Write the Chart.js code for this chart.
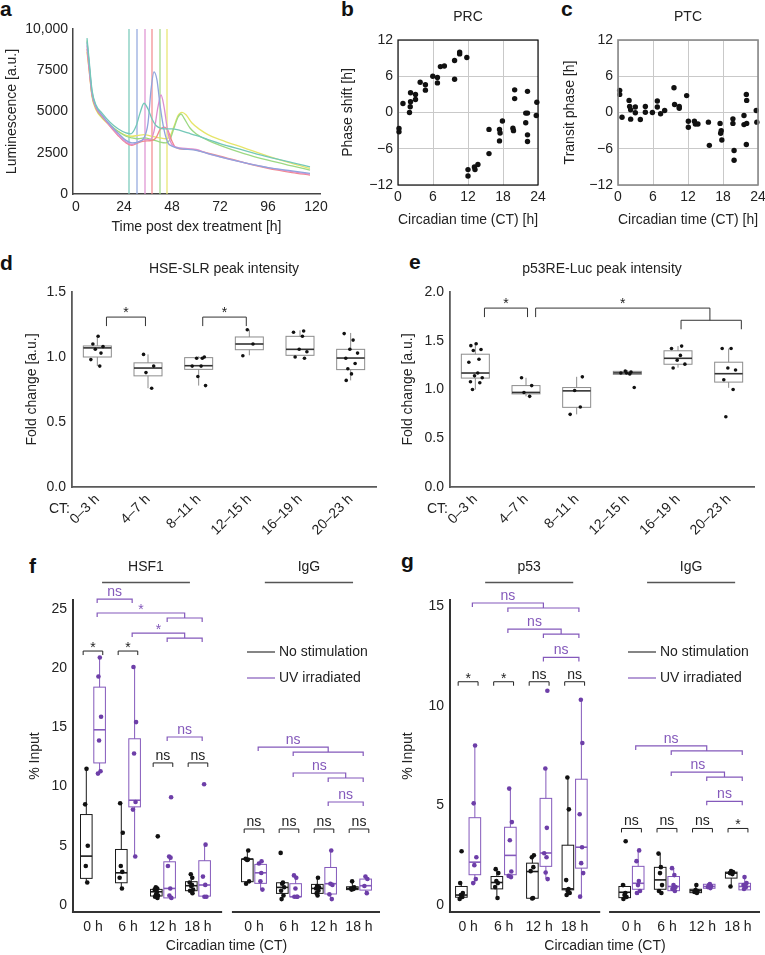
<!DOCTYPE html>
<html><head><meta charset="utf-8"><title>Circadian figure</title>
<script src="https://cdn.jsdelivr.net/npm/chart.js@4.4.0/dist/chart.umd.min.js"></script>
<style>
html,body{margin:0;padding:0;background:#fff;}
body{position:relative;width:765px;height:955px;overflow:hidden;font-family:'Liberation Sans',Arial,sans-serif;}
.pl{position:absolute;font-weight:bold;font-size:21px;line-height:21px;color:#111;}
canvas{position:absolute;}
</style></head><body>
<div class="pl" style="left:0px;top:-2px">a</div>
<div class="pl" style="left:341px;top:-2px">b</div>
<div class="pl" style="left:561px;top:-2px">c</div>
<div class="pl" style="left:0px;top:252px">d</div>
<div class="pl" style="left:409px;top:251px">e</div>
<div class="pl" style="left:29px;top:555px">f</div>
<div class="pl" style="left:401px;top:550px">g</div>
<script>
// ================= DATA =================
// panel a
const aXTicks = [0, 24, 48, 72, 96, 120];
const aYTicks = [0, 2500, 5000, 7500, 10000];
const curveTeal = [[5.5,9450],[6.5,8200],[8,6300],[10,5400],[13,4900],[17,4350],[21,3950],[25,3700],[27.5,3650],[30,4100],[32,4900],[34,5500],[36,5150],[38,4550],[40,4150],[44,3950],[48,3950],[52,3850],[56,3700],[60,3550],[66,3300],[72,3050],[84,2650],[96,2250],[108,1900],[117,1650]];
const curveBlue = [[5.5,9200],[6.5,8000],[8,6200],[10,5300],[13,4800],[17,4200],[21,3700],[25,3250],[28,3100],[31,3150],[34,3400],[36,4300],[37.5,6300],[39,7400],[40.5,6900],[42,5400],[44,3900],[46,3100],[48,2900],[52,2750],[56,2700],[60,2650],[66,2450],[72,2250],[84,1900],[96,1600],[108,1400],[117,1250]];
const curvePink = [[5.5,9000],[6.5,7800],[8,6100],[10,5250],[13,4750],[17,4150],[21,3600],[25,3150],[28,3000],[31,3150],[34,3300],[37,3300],[39,3800],[41,5300],[42.5,6000],[44,5300],[46,3700],[48,3000],[52,2800],[56,2750],[60,2700],[66,2450],[72,2250],[84,1900],[96,1600],[108,1350],[117,1200]];
const curveSalmon = [[5.5,8800],[6.5,7600],[8,6000],[10,5200],[13,4700],[17,4100],[21,3550],[25,3100],[28,2950],[31,3100],[34,3200],[38,3250],[40,3400],[42,3900],[44,4050],[46,3850],[48,3200],[50,2800],[54,2700],[58,2700],[62,2600],[72,2300],[84,1900],[96,1550],[108,1300],[117,1150]];
const curveGreen = [[5.5,9300],[6.5,7900],[8,6000],[10,5200],[13,4650],[17,4200],[21,3800],[25,3500],[28,3400],[31,3350],[34,3400],[38,3300],[42,3150],[45,3100],[47,3300],[49,4000],[51,4650],[52.5,4850],[54,4600],[57,4000],[60,3650],[66,3250],[72,2950],[84,2450],[96,2050],[108,1700],[117,1450]];
const curveYellow = [[5.5,8600],[6.5,7600],[8,5900],[10,5100],[13,4600],[17,4150],[21,3800],[25,3550],[28,3500],[31,3550],[34,3600],[38,3500],[42,3400],[45,3350],[47,3500],[49,4100],[51,4750],[53,4950],[55,4800],[58,4300],[62,3900],[66,3600],[72,3300],[84,2800],[96,2300],[108,1850],[117,1550]];
const phaseLines = [26.5, 30.5, 34.5, 38, 42, 45.5];

// panel b (PRC)
const prcCT = [0.17,0.17,0.85,1.97,2.1,2.15,2.15,3.0,3.0,3.8,4.7,4.7,5.96,6.76,6.76,7.27,7.95,9.7,9.7,10.57,10.57,11.8,12.0,12.0,13.1,13.2,13.7,15.6,15.6,17.4,17.5,17.4,17.9,20.0,20.0,19.7,19.8,22.2,21.9,22.2,21.9,22.2,22.2,23.8,23.7];
const prcShift = [-2.65,-3.2,1.5,0,0.94,1.77,3.26,3.0,2.15,5.0,4.6,3.7,6.0,5.8,4.9,7.6,7.7,8.6,5.5,10.0,9.7,9.1,-9.45,-10.5,-9.0,-9.45,-8.6,-2.8,-6.8,-2.8,-3.4,-4.7,-1.4,3.75,2.3,-2.6,-3.0,3.5,-0.1,-0.1,-1.7,-3.7,-4.8,1.7,-0.5];
// panel c (PTC)
const ptcCT = [0.29,0.29,0.69,1.9,2.0,2.17,2.17,2.97,2.97,3.83,4.69,4.69,5.9,6.74,6.74,7.3,8.0,9.6,9.7,10.5,10.5,11.77,12.06,12.06,13.1,13.26,13.7,15.5,15.66,17.5,17.6,17.7,17.8,19.7,19.7,19.9,19.9,21.6,21.6,22.0,22.06,22.06,22.0,23.7,23.8];
const ptcPhase = [3.67,3.0,-0.78,2.0,1.0,0.44,-1.1,0.9,-0.05,-1.17,1.0,0.05,0,1.9,0.9,-0.2,0.33,4.1,1.33,1.0,0.7,2.8,-1.44,-2.44,-1.44,-1.9,-1.9,-1.6,-5.44,-1.8,-3.44,-3.0,-4.55,-1.05,-1.8,-6.3,-7.9,-0.5,-2.0,3.0,2.0,-1.8,-5.3,0.33,-1.6];
const phaseTicks = [0, 6, 12, 18, 24];

// panels d, e  (box = [min, q1, median, q3, max])
const ctCats = ['0\u20133 h','4\u20137 h','8\u201311 h','12\u201315 h','16\u201319 h','20\u201323 h'];
const dBoxes = [[0.93,1.00,1.07,1.085,1.17],[0.76,0.855,0.915,0.955,1.02],[0.78,0.905,0.933,0.995,1.005],[1.013,1.056,1.10,1.154,1.21],[1.013,1.013,1.059,1.159,1.205],[0.82,0.903,0.992,1.059,1.185]];
const dPoints = [[1.16,1.10,1.08,1.06,1.03,0.98,0.93],[1.02,0.93,0.88,0.76],[1.00,0.99,0.99,0.93,0.93,0.85,0.78],[1.21,1.10,1.01],[1.20,1.19,1.16,1.06,1.04,1.00,0.99],[1.18,1.13,1.06,1.03,0.99,0.95,0.91,0.87,0.82]];
const eBoxes = [[1.0,1.117,1.169,1.362,1.47],[0.93,0.955,0.97,1.04,1.12],[0.745,0.817,0.986,1.02,1.13],[1.155,1.155,1.17,1.186,1.2],[1.224,1.259,1.32,1.397,1.445],[1.017,1.076,1.162,1.28,1.42]];
const ePoints = [[1.47,1.45,1.41,1.40,1.31,1.28,1.17,1.14,1.12,1.08,1.07,1.0],[1.12,1.04,0.97,0.93],[1.13,0.99,0.82,0.745],[1.19,1.18,1.17,1.16,1.17,1.02],[1.445,1.42,1.35,1.30,1.26,1.22],[1.42,1.42,1.22,1.20,1.10,1.0,0.72]];

// panels f, g
const ctLabels = ['0 h','6 h','12 h','18 h'];
const grpX = [0, 1, 2, 3, 4.6, 5.6, 6.6, 7.6];
const fHsfCtrlBox = [[1.88,2.25,4.13,7.64,11.46],[1.4,1.88,2.72,4.69,8.62],[0.56,0.76,1.12,1.32,1.55],[0.98,1.21,1.63,1.97,2.61]];
const fHsfCtrlPts = [[11.5,8.5,5.0,3.3,1.9],[8.6,6.1,3.3,2.8,2.3,1.4],[5.8,1.5,1.4,1.3,1.1,0.9,0.8,0.7,0.6],[2.6,2.3,1.9,1.7,1.6,1.3,1.2,1.0]];
const fHsfUVBox = [[11.0,12.0,14.8,18.4,20.9],[4.13,8.29,8.85,14.04,20.1],[0.5,0.6,1.4,3.65,4.13],[0.7,0.75,1.69,3.74,5.14]];
const fHsfUVPts = [[20.9,19.3,15.9,13.9,11.3,11.1],[20.1,15.45,12.8,8.7,8.06,4.1],[9.1,4.1,4.0,3.3,1.4,0.8,0.6],[10.2,5.1,2.4,1.7,0.7,0.7]];
const fIgGCtrlBox = [[1.83,1.97,3.88,3.88,4.58],[0.5,0.98,1.49,1.88,1.9],[0.76,0.98,1.4,1.74,2.33],[1.26,1.3,1.4,1.54,2.05]];
const fIgGCtrlPts = [[4.6,3.9,3.85,3.8,2.0,1.8],[4.4,1.9,1.8,1.5,1.2,0.8,0.5],[2.3,1.6,1.5,1.4,1.2,1.0,0.8],[2.0,1.5,1.4,1.35,1.3]];
const fIgGUVBox = [[1.32,1.83,2.72,3.43,3.74],[0.7,0.7,0.7,1.8,2.53],[0.5,0.93,1.8,3.17,4.63],[0.9,1.26,1.63,2.19,2.39]];
const fIgGUVPts = [[3.7,3.5,2.7,2.0,1.3],[2.5,2.3,1.4,0.7,0.7,0.7],[4.6,1.8,1.7,0.9,0.5],[2.4,2.2,1.6,1.0]];
const gP53CtrlBox = [[0.3,0.39,0.5,0.93,1.09],[0.34,0.81,1.13,1.43,1.8],[0.34,0.34,1.68,2.1,2.49],[0.47,0.76,0.81,3.0,6.43]];
const gP53CtrlPts = [[2.7,1.1,0.6,0.5,0.4,0.3],[1.8,1.6,1.2,1.1,0.9,0.35],[2.5,2.4,1.9,1.7,0.35,0.33],[6.4,4.8,1.25,0.8,0.7,0.6,0.5]];
const gP53UVBox = [[1.06,1.52,2.15,4.38,8.0],[1.4,1.52,2.49,3.9,5.84],[1.31,1.94,2.61,5.35,6.85],[0.42,1.85,2.9,6.31,10.3]];
const gP53UVPts = [[8.0,5.1,2.4,2.0,1.3,1.1],[5.84,4.16,3.25,1.68,1.46,1.4],[10.75,6.85,3.87,2.6,2.4,1.63,1.3],[10.3,8.13,4.55,2.9,2.1,1.6,0.42]];
const gIgGCtrlBox = [[0.29,0.37,0.64,0.93,1.06],[0.59,0.79,1.26,1.89,2.58],[0.6,0.62,0.72,0.79,1.01],[0.93,1.35,1.6,1.65,1.68]];
const gIgGCtrlPts = [[3.2,1.0,0.6,0.5,0.4,0.3],[2.58,1.9,1.6,1.0,0.7,0.6],[1.0,0.75,0.7,0.65,0.6],[1.7,1.65,1.6,1.55,0.93]];
const gIgGUVBox = [[0.5,0.79,1.09,1.94,2.74],[0.67,0.72,0.93,1.43,1.85],[0.84,0.84,0.93,1.04,1.05],[0.76,0.76,0.93,1.09,1.4]];
const gIgGUVPts = [[2.74,2.2,1.2,1.0,0.7,0.6],[1.85,1.5,1.0,0.9,0.8,0.7],[1.05,1.0,0.95,0.9,0.85],[1.4,1.1,1.0,0.9,0.8]];
// significance
const fPairSig = ['*','*','ns','ns','ns','ns','ns','ns'];
const fPairY = [21.45,21.45,12.0,12.0,6.42,6.42,6.42,6.42];
const gPairSig = ['*','*','ns','ns','ns','ns','ns','*'];
const gPairY = [11.2,11.2,11.2,11.2,3.84,3.84,3.84,3.84];
const fUVSig = [{a:0,b:1,y:25.84,t:'ns'},{a:0,sub:[2,3],y:24.66,t:'*'},{a:1,sub:[2,3],y:22.97,t:'*'},{a:2,b:3,y:14.19,t:'ns'},{a:4,sub:[5,7],y:13.34,t:'ns'},{a:5,sub:[6,7],y:11.15,t:'ns'},{a:6,b:7,y:8.7,t:'ns'}];
const gUVSig = [{a:0,sub:[1,3],y:15.15,t:'ns'},{a:1,sub:[2,3],y:13.84,t:'ns'},{a:2,b:3,y:12.42,t:'ns'},{a:4,sub:[5,7],y:7.98,t:'ns'},{a:5,sub:[6,7],y:6.67,t:'ns'},{a:6,b:7,y:5.2,t:'ns'}];
const dSig = [{x1:0.18,x2:0.95,y:1.307,t:'*'},{x1:2.08,x2:2.94,y:1.307,t:'*'}];
const eSig = [{x1:0.18,x2:1.03,y:1.835,t:'*'},{x1:1.19,x2:4.63,y:1.835,toY:1.71,t:'*'},{x1:4.06,x2:5.25,y:1.71,t:''}];

// ================= RENDER =================
const FONT = "'Liberation Sans', Arial, Helvetica, sans-serif";
Chart.defaults.font.family = FONT;
Chart.defaults.font.size = 14;
Chart.defaults.color = '#222';
Chart.defaults.animation = false;
Chart.defaults.events = [];
Chart.defaults.plugins.legend.display = false;
Chart.defaults.plugins.tooltip.enabled = false;
const PUR = '#8459bb', PURDOT = '#6d3ea8';
const JIT = [0.1,-0.55,0.7,-0.25,0.45,-0.8,0.3,-0.1,0.85,-0.6,0.55,-0.35];
let pid = 0;

function mk(L, T, W, H, area, cfg) {
  const c = document.createElement('canvas');
  c.width = W; c.height = H;
  c.style.left = L + 'px'; c.style.top = T + 'px';
  c.style.width = W + 'px'; c.style.height = H + 'px';
  document.body.appendChild(c);
  const o = cfg.options;
  o.responsive = false;
  o.layout = { padding: { left: 0, top: area.t - T, right: L + W - area.r, bottom: 0 } };
  const xh = T + H - area.b, yw = area.l - L;
  o.scales.x.afterFit = s => { s.height = xh; s.paddingLeft = 0; s.paddingRight = 0; };
  o.scales.y.afterFit = s => { s.width = yw; s.paddingTop = 0; s.paddingBottom = 0; };
  return new Chart(c, cfg);
}
function setTicks(vals) { return s => { s.ticks = vals.map(v => ({ value: v })); }; }
function txt(ctx, s, x, y, opt) {
  opt = opt || {};
  ctx.font = (opt.w ? opt.w + ' ' : '') + (opt.size || 14) + 'px ' + FONT;
  ctx.fillStyle = opt.color || '#222';
  ctx.textAlign = opt.align || 'center';
  ctx.textBaseline = opt.base || 'middle';
  ctx.fillText(s, x, y);
}
function poly(ctx, pts, col, lw) {
  ctx.strokeStyle = col; ctx.lineWidth = lw; ctx.beginPath();
  pts.forEach((p, i) => i ? ctx.lineTo(p[0], p[1]) : ctx.moveTo(p[0], p[1]));
  ctx.stroke();
}
function sigLabel(ctx, s, x, y, col) {
  if (!s) return;
  if (s === '*') txt(ctx, '*', x, y + 1, { color: col, base: 'alphabetic' });
  else txt(ctx, s, x, y - 3, { color: col, base: 'alphabetic' });
}
function decor(L, T, fn) {
  return { id: 'decor' + (pid++), afterDraw(chart) { const ctx = chart.ctx; ctx.save(); ctx.translate(-L, -T); fn(ctx, chart); ctx.restore(); } };
}
function boxesPlugin(series) {
  return { id: 'boxes' + (pid++), beforeDatasetsDraw(chart) {
    const ctx = chart.ctx, X = chart.scales.x, Y = chart.scales.y;
    ctx.save();
    series.forEach(s => s.boxes.forEach((b, i) => {
      const px = X.getPixelForValue(s.xOf(i));
      const p = b.map(v => Y.getPixelForValue(v));
      ctx.strokeStyle = s.col; ctx.lineWidth = s.lw;
      ctx.beginPath();
      ctx.moveTo(px, p[4]); ctx.lineTo(px, p[3]);
      ctx.moveTo(px, p[1]); ctx.lineTo(px, p[0]);
      ctx.stroke();
      ctx.strokeRect(px - s.hw, p[3], 2 * s.hw, p[1] - p[3]);
      ctx.strokeStyle = s.med; ctx.lineWidth = s.medLw;
      ctx.beginPath(); ctx.moveTo(px - s.hw, p[2]); ctx.lineTo(px + s.hw, p[2]); ctx.stroke();
    }));
    ctx.restore();
  } };
}
function ptsData(arr, xOf, jw) {
  const out = [];
  arr.forEach((vals, g) => vals.forEach((v, i) => out.push({ x: xOf(g) + JIT[(i + g) % JIT.length] * jw, y: v })));
  return out;
}

// ---------- panel a ----------
const aCurves = [curveTeal, curveBlue, curvePink, curveSalmon, curveGreen, curveYellow];
const aColors = ['#74c8b8','#8fa5dd','#de8fd0','#f2878c','#9cd983','#e6e56a'];
mk(0, 0, 330, 240, { l: 73, t: 29, r: 320, b: 194 }, {
  type: 'line',
  data: { datasets: aCurves.map((c, i) => ({ data: c.map(p => ({ x: p[0], y: p[1] })), borderColor: aColors[i], borderWidth: 1.3, pointRadius: 0, cubicInterpolationMode: 'monotone', fill: false }))
    .concat(phaseLines.map((t, i) => ({ data: [{ x: t, y: 0 }, { x: t, y: 10000 }], borderColor: aColors[i], borderWidth: 1.2, pointRadius: 0 }))) },
  options: { scales: {
    x: { type: 'linear', min: -1.5, max: 122, afterBuildTicks: setTicks(aXTicks), ticks: { padding: 5, maxRotation: 0, autoSkip: false }, grid: { display: false, drawTicks: false }, border: { color: '#444', width: 1.5 }, title: { display: true, text: 'Time post dex treatment [h]', padding: { top: 0, bottom: 4.6 } } },
    y: { type: 'linear', min: 0, max: 10000, afterBuildTicks: setTicks(aYTicks), ticks: { padding: 5, callback: v => v === 10000 ? '10,000' : String(v) }, grid: { display: false, drawTicks: false }, border: { color: '#444', width: 1.5 }, title: { display: true, text: 'Luminescence [a.u.]', padding: { top: 3.6, bottom: 0 } } }
  } }
});

// ---------- panels b, c ----------
const minus = v => v < 0 ? '\u2212' + Math.abs(v) : String(v);
function phasePanel(L, area, xs, ys, ytitle, ttl, frameCol, frameW, titlePad) {
  mk(L, 0, L === 330 ? 220 : 215, 232, area, {
    type: 'scatter',
    data: { datasets: [{ data: xs.map((x, i) => ({ x, y: ys[i] })), pointRadius: 2.7, backgroundColor: '#111', borderWidth: 0, clip: false }] },
    options: { scales: {
      x: { type: 'linear', min: 0, max: 24, afterBuildTicks: setTicks(phaseTicks), ticks: { padding: 4, maxRotation: 0, autoSkip: false }, grid: { color: '#c9c9c9', drawTicks: false }, border: { display: false }, title: { display: true, text: 'Circadian time (CT) [h]', padding: { top: 0, bottom: 3.6 } } },
      y: { type: 'linear', min: -12, max: 12, ticks: { stepSize: 6, padding: 5, callback: minus }, grid: { color: '#c9c9c9', drawTicks: false }, border: { display: false }, title: { display: true, text: ytitle, padding: { top: titlePad, bottom: 0 } } }
    } },
    plugins: [decor(L, 0, (ctx, chart) => {
      const ca = chart.chartArea;
      ctx.strokeStyle = frameCol; ctx.lineWidth = frameW;
      ctx.strokeRect(ca.left + L, ca.top, ca.right - ca.left, ca.bottom - ca.top);
      txt(ctx, ttl, (ca.left + ca.right) / 2 + L, 17);
    })]
  });
}
phasePanel(330, { l: 398, t: 40, r: 538, b: 185 }, prcCT, prcShift, 'Phase shift [h]', 'PRC', '#111', 1.2, 9.6);
phasePanel(550, { l: 618, t: 40, r: 758, b: 185 }, ptcCT, ptcPhase, 'Transit phase [h]', 'PTC', '#8a8a8a', 1.6, 11.6);

// ---------- panels d, e ----------
function peakPanel(L, area, boxes, pts, ymax, ticks, ttl, ytPad, sig, ctX) {
  mk(L, 250, L === 0 ? 380 : 385, 300, area, {
    type: 'scatter',
    data: { datasets: [{ data: ptsData(pts, g => g, 0.16), pointRadius: 1.8, backgroundColor: '#111', borderWidth: 0, clip: false }] },
    options: { scales: {
      x: { type: 'linear', min: -0.5, max: 5.5, afterBuildTicks: setTicks([0,1,2,3,4,5]), ticks: { padding: 4, minRotation: 45, maxRotation: 45, autoSkip: false, callback: (v, i) => ctCats[i] }, grid: { display: false, drawTicks: false }, border: { color: '#5a5a5a', width: 1.8 } },
      y: { type: 'linear', min: 0, max: ymax, afterBuildTicks: setTicks(ticks), ticks: { padding: 6, callback: v => v.toFixed(1) }, grid: { display: false, drawTicks: false }, border: { color: '#5a5a5a', width: 1.8 }, title: { display: true, text: 'Fold change [a.u.]', padding: { top: ytPad, bottom: 0 } } }
    } },
    plugins: [boxesPlugin([{ boxes: boxes, xOf: i => i, hw: 14, col: '#8c8c8c', lw: 1, med: '#333', medLw: 1.6 }]),
      decor(L, 250, (ctx, chart) => {
        const X = chart.scales.x, Y = chart.scales.y, ca = chart.chartArea;
        const px = v => X.getPixelForValue(v) + L, py = v => Y.getPixelForValue(v) + 250;
        txt(ctx, ttl, (ca.left + ca.right) / 2 + L, 269);
        txt(ctx, 'CT:', ctX, 509, { align: 'right' });
        sig.forEach(b => {
          const x1 = px(b.x1), x2 = px(b.x2), y = py(b.y);
          const yr = b.toY !== undefined ? py(b.toY) : y + 9;
          poly(ctx, [[x1, y + 9], [x1, y], [x2, y], [x2, yr]], '#333', 1);
          sigLabel(ctx, b.t, (x1 + x2) / 2, y - 1, '#222');
        });
      })]
  });
}
peakPanel(0, { l: 72, t: 292, r: 376, b: 487 }, dBoxes, dPoints, 1.5, [0, 0.5, 1.0, 1.5], 'HSE-SLR peak intensity', 23.6, dSig, 70);
peakPanel(380, { l: 450, t: 292, r: 754, b: 487 }, eBoxes, ePoints, 2.0, [0, 0.5, 1.0, 1.5, 2.0], 'p53RE-Luc peak intensity', 19.6, eSig, 448);

// ---------- panels f, g ----------
function chipPanel(o) {
  const L = o.L, T = 540;
  const ctrlBoxes = o.ctrlBox.concat(o.ctrlBox2), uvBoxes = o.uvBox.concat(o.uvBox2);
  const ctrlPts = o.ctrlPts.concat(o.ctrlPts2), uvPts = o.uvPts.concat(o.uvPts2);
  mk(L, T, o.W, 415, o.area, {
    type: 'scatter',
    data: { datasets: [
      { data: ptsData(uvPts, g => grpX[g] + 0.19, 0.06), pointRadius: 2.3, backgroundColor: PURDOT, borderWidth: 0, clip: false },
      { data: ptsData(ctrlPts, g => grpX[g] - 0.19, 0.06), pointRadius: 2.3, backgroundColor: '#111', borderWidth: 0, clip: false }] },
    options: { scales: {
      x: { type: 'linear', min: o.xmin, max: o.xmax, afterBuildTicks: setTicks(grpX), ticks: { padding: 6.6, maxRotation: 0, autoSkip: false, callback: (v, i) => ctLabels[i % 4] }, grid: { display: false, drawTicks: false }, border: { display: false }, title: { display: true, text: 'Circadian time (CT)', padding: { top: 0, bottom: 0 } } },
      y: { type: 'linear', min: o.ymin, max: o.ymax, afterBuildTicks: setTicks(o.yTicks), ticks: { padding: 6 }, grid: { display: false, drawTicks: false }, border: { color: '#333', width: 2 }, title: { display: true, text: '% Input', padding: { top: o.ytPad, bottom: 0 } } }
    } },
    plugins: [boxesPlugin([
      { boxes: ctrlBoxes, xOf: i => grpX[i] - 0.19, hw: 5.8, col: '#1a1a1a', lw: 1, med: '#1a1a1a', medLw: 1.6 },
      { boxes: uvBoxes, xOf: i => grpX[i] + 0.19, hw: 5.8, col: PUR, lw: 1, med: PUR, medLw: 1.6 }]),
      decor(L, T, (ctx, chart) => {
        const X = chart.scales.x, Y = chart.scales.y, ca = chart.chartArea;
        const px = v => X.getPixelForValue(v) + L, py = v => Y.getPixelForValue(v) + T;
        const ab = ca.bottom + T;
        o.axisSegs.forEach(s => poly(ctx, [[px(s[0]), ab], [px(s[1]), ab]], '#333', 2));
        o.pairSig.forEach((s, g) => {
          const x1 = px(grpX[g] - 0.28), x2 = px(grpX[g] + 0.28), y = py(o.pairY[g]);
          poly(ctx, [[x1, y + 4], [x1, y], [x2, y], [x2, y + 4]], '#222', 1);
          sigLabel(ctx, s, (x1 + x2) / 2, y, '#222');
        });
        o.uvSig.forEach(p => {
          const xa = px(grpX[p.a] + 0.12), y = py(p.y);
          if (p.sub) {
            const s1 = px(grpX[p.sub[0]] + 0.12), s2 = px(grpX[p.sub[1]] + 0.12), xm = (s1 + s2) / 2;
            poly(ctx, [[xa, y + 4], [xa, y], [xm, y], [xm, y + 5]], PUR, 1.2);
            poly(ctx, [[s1, y + 9], [s1, y + 5], [s2, y + 5], [s2, y + 9]], PUR, 1.2);
            sigLabel(ctx, p.t, (xa + xm) / 2, y, PUR);
          } else {
            const xb = px(grpX[p.b] + 0.12);
            poly(ctx, [[xa, y + 4], [xa, y], [xb, y], [xb, y + 4]], PUR, 1.2);
            sigLabel(ctx, p.t, (xa + xb) / 2, y, PUR);
          }
        });
        o.titles.forEach(t => {
          const x1 = px(t.x1), x2 = px(t.x2);
          poly(ctx, [[x1, 582.5], [x2, 582.5]], '#555', 1.5);
          txt(ctx, t.text, (x1 + x2) / 2, 567);
        });
        poly(ctx, [[o.legX, 652], [o.legX + 28, 652]], '#333', 1.2);
        txt(ctx, 'No stimulation', o.legX + 32, 652, { align: 'left' });
        poly(ctx, [[o.legX, 678], [o.legX + 28, 678]], PUR, 1.2);
        txt(ctx, 'UV irradiated', o.legX + 32, 678, { align: 'left' });
      })]
  });
}
chipPanel({ L: 0, W: 385, area: { l: 73, t: 600, r: 380, b: 912 }, xmin: -0.57, xmax: 8.2, ymin: -0.59, ymax: 25.76, yTicks: [0,5,10,15,20,25], ytPad: 26.6,
  ctrlBox: fHsfCtrlBox, ctrlBox2: fIgGCtrlBox, uvBox: fHsfUVBox, uvBox2: fIgGUVBox,
  ctrlPts: fHsfCtrlPts, ctrlPts2: fIgGCtrlPts, uvPts: fHsfUVPts, uvPts2: fIgGUVPts,
  pairSig: fPairSig, pairY: fPairY, uvSig: fUVSig,
  axisSegs: [[-0.6, 3.69], [3.97, 8.2]],
  titles: [{ text: 'HSF1', x1: 0.26, x2: 2.77 }, { text: 'IgG', x1: 4.91, x2: 7.43 }], legX: 247 });
chipPanel({ L: 385, W: 380, area: { l: 450, t: 600, r: 760, b: 912 }, xmin: -0.51, xmax: 8.22, ymin: -0.35, ymax: 15.3, yTicks: [0,5,10,15], ytPad: 14.6,
  ctrlBox: gP53CtrlBox, ctrlBox2: gIgGCtrlBox, uvBox: gP53UVBox, uvBox2: gIgGUVBox,
  ctrlPts: gP53CtrlPts, ctrlPts2: gIgGCtrlPts, uvPts: gP53UVPts, uvPts2: gIgGUVPts,
  pairSig: gPairSig, pairY: gPairY, uvSig: gUVSig,
  axisSegs: [[-0.54, 3.72], [3.97, 8.22]],
  titles: [{ text: 'p53', x1: 0.48, x2: 2.96 }, { text: 'IgG', x1: 5.04, x2: 7.52 }], legX: 628 });
</script>
</body></html>
